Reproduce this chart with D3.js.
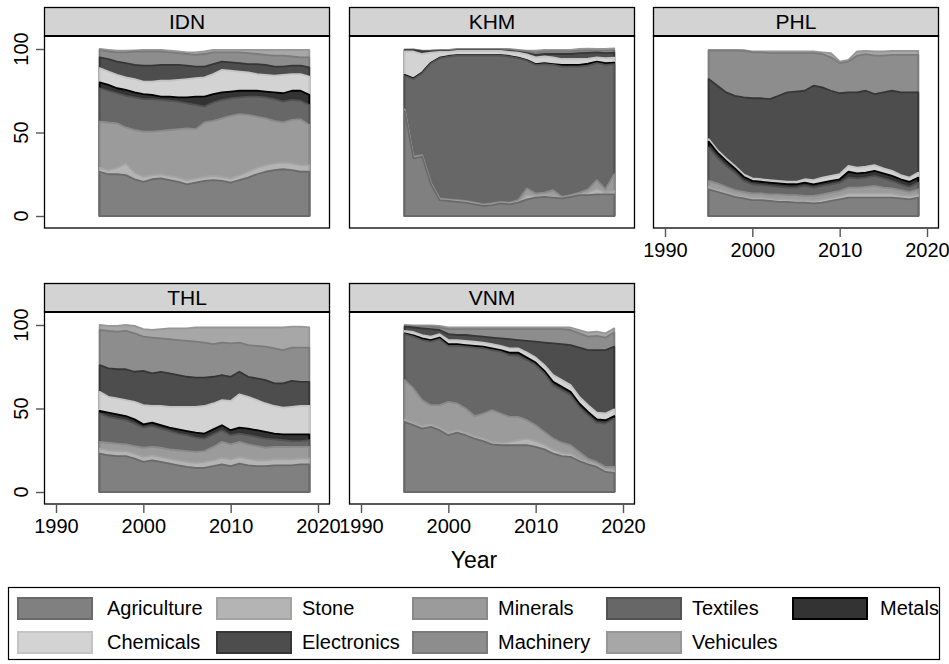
<!DOCTYPE html>
<html><head><meta charset="utf-8">
<script src="https://cdn.jsdelivr.net/npm/d3@7"></script>
<style>body{margin:0;background:#fff} svg{display:block} text{font-family:"Liberation Sans",Arial,Helvetica,sans-serif;fill:#000}</style>
</head><body><svg id="chart" width="949" height="664"></svg>
<script>
const years = [1995,1996,1997,1998,1999,2000,2001,2002,2003,2004,2005,2006,2007,2008,2009,2010,2011,2012,2013,2014,2015,2016,2017,2018,2019];
const sectors = ["Agriculture","Stone","Minerals","Textiles","Metals","Chemicals","Electronics","Machinery","Vehicules"];
const countries = ["IDN","KHM","PHL","THL","VNM"];
const xTicks = [1990,2000,2010,2020];
const yTicks = [0,50,100];

const dataIDN = {
  Agriculture:[26.5,25,25,24.5,22,20.5,22,22.5,21.5,20.5,19,20,21,21.5,21,20,21.5,23,25,26.5,27.5,28,27.5,26.5,26.5],
  Stone:[2.5,2.5,4,7,4,3,2.5,2.5,2.5,2.5,2.5,2.5,2.5,2.5,2.5,2.5,3,3.5,4,4,4,4,4,4,4],
  Minerals:[27.5,28.5,26.5,21.5,25.5,27,26,26,27.5,29,31,29.5,32.5,33,35,37.5,36.5,34,30.5,28,25.5,24,26,27.5,24],
  Textiles:[20,19,18,19,19.5,19.5,19.5,18.5,17.5,16.5,15,14.5,9.5,11,11,10.5,10,11,12,12.5,13,12.5,12,11,12],
  Metals:[3.5,3.5,3,3.5,3,3,2.5,2,2.5,2.5,3.5,5,6,5,4.5,4,4,3.5,3.5,3.5,4,5,5.5,6,6],
  Chemicals:[8.5,8,8,7.5,8,7.5,8,9.5,9.5,10.5,11,11,11.5,12,13.5,12.5,11.5,11,10,10,10,11,10,10,11],
  Electronics:[6.5,7.5,8,8.5,8.5,9.5,9.5,9.5,9.5,9,8,7,6.5,6,5,5,5,5,6,6,5.5,5,5,5,5.5],
  Machinery:[4.5,4.5,5.5,6.5,8,8.5,8.5,8,7.5,7,7,7,7.5,7,5.5,6,6.5,6.5,6,6,6.5,6.5,5.5,5,6],
  Vehicules:[0.5,1,1,1,0.7,1,1,1,1,1,1,1.5,1.5,1.5,1.5,1.5,1.5,2,2.5,3,3.5,3.5,4,4.5,4.5]
};
const dataKHM = {
  Agriculture:[63,34.5,35.5,19,9.5,9,8.5,8,7,6,6.5,7.5,7,8,10,11,11.5,11,10.5,11.5,12.5,12.5,13,13,13],
  Stone:[0.4,0.4,0.4,0.4,0.4,0.4,0.4,0.4,0.4,0.4,0.4,0.4,0.4,0.5,2.5,1,1,1.5,0.4,0.4,0.5,1.5,3.5,1,2],
  Minerals:[0.6,0.6,0.6,0.6,0.6,0.6,0.6,0.6,0.6,0.6,0.6,0.6,0.6,1,4,1.5,1.5,3,0.6,0.6,1,2,5,2,10],
  Textiles:[20,46.5,49,71.5,84,85.5,86.5,87,88,89,88.5,87.5,87.5,85,76.5,77,77,75,78,77,75.5,74,70,74.5,66],
  Metals:[0.5,0.5,0.5,0.3,0.3,0.3,0.3,0.3,0.3,0.3,0.3,0.3,0.3,0.3,0.3,0.5,0.5,0.5,1,1,1,1.2,1,1,0.8],
  Chemicals:[14,16,11,6,3.5,2.5,2.5,2.5,2.5,2.5,2.5,2.5,2.5,3,3.5,4,4,4,3.5,3.5,3.5,3,2.5,3,3],
  Electronics:[0.8,0.8,1.5,0.8,0.4,0.4,0.4,0.4,0.4,0.4,0.4,0.4,0.5,0.5,0.7,1.5,1.5,2,3,3,3.5,3.5,3,3,3],
  Machinery:[0.2,0.3,0.3,0.3,0.5,0.5,0.5,0.5,0.5,0.5,0.5,0.5,0.7,0.7,1,1.5,1.5,1.5,1.5,1.5,1.5,1.5,1,1.5,1.5],
  Vehicules:[0.2,0.2,0.2,0.2,0.3,0.3,0.3,0.3,0.3,0.3,0.3,0.3,0.5,0.5,0.5,1,1,1,1,1,1,1,1,1,1]
};
const dataPHL = {
  Agriculture:[16,14.5,13,11.5,10.5,9.5,9.5,9,8.5,8.5,8,8,7.5,8,9,10,11,11,11,11,11,11,10.5,10,11],
  Stone:[1.5,1.5,1.5,1.5,1.5,1.5,1.5,1.5,1.5,1.5,1.5,1.5,1.5,2,2,2,2.5,2.5,2.5,2.5,2.5,2.5,2,2,2],
  Minerals:[3.5,3.5,3,2.5,2.5,2.5,2.5,2.5,3,2.5,3,2.5,3,3,3,3,3.5,3.5,4,4.5,3.5,3,3,2.5,3],
  Textiles:[20,15.5,12.5,10.5,6.5,5.5,5,5,4.5,4.5,4.5,6,5,5,5,5,6,5.5,5.5,6,5.5,4.5,3.5,3,4],
  Metals:[3.5,3,3,2.5,2.5,2,2,2,2,2,2,2,2,2,2,2,3.5,3,3,3,3,3,3,3,3],
  Chemicals:[1.5,1.5,1.5,1.5,1.5,1.5,1.5,1.5,1.5,1.5,1.5,2,2.5,3,3,3,3.5,3.5,3.5,3.5,3,3,2.5,2.5,3],
  Electronics:[36,38.5,39.5,42,46,48,48.5,48.5,51,53.5,54,53,56.5,54,51,48.5,44,45,45.5,42.5,45.5,48,49.5,51,48],
  Machinery:[17,21,25,27,28,27.5,27.5,27.5,25.5,23.5,23,22.5,19.5,20,20,18,18.5,22,22,23,22,21.5,22.5,22.5,22.5],
  Vehicules:[0.5,0.5,0.5,0.5,0.3,0.5,0.5,1,1,1,1,1,1,1,2.5,1,1,2.5,1.8,2.5,2.5,2.3,2.3,2.3,2.3]
};
const dataTHL = {
  Agriculture:[23,22,21.5,21.5,20,18,19,18,17,16,15,14.5,14.5,15.5,16.5,15.5,17,16,15.5,15.5,16,16,16,16.5,16.5],
  Stone:[3,3,3,3,3,3,3,3,3,3,3,3,3.5,3.5,4,4,4,4,3.5,3.5,3.5,3.5,3.5,3.5,3.5],
  Minerals:[4,4.5,4.5,4,4.5,5.5,5,5.5,5.5,6,6.5,6.5,6.5,8,9.5,9,9,8.5,8.5,7.5,7.5,7.5,7.5,7,7],
  Textiles:[17,15.5,15,14.5,13.5,12,12.5,11.5,11,10,9.5,8.5,7.5,7.5,7,5.5,5,5.5,5.5,5.5,4.5,4,3.5,3.5,4],
  Metals:[1.5,2.5,2.5,2.5,2.5,2,2,2,2,2.5,2.5,3,3,3,3,3,3.5,4,4,4,3.5,3.5,4,4,3.5],
  Chemicals:[11.5,9.5,9.5,9.5,10.5,11.5,10,11.5,12.5,13.5,14.5,15.5,16.5,15.5,15,17.5,20,19,18,17,16.5,16,16.5,17,17],
  Electronics:[16,17,17.5,18.5,18,20.5,19.5,20.5,20,19,18,17.5,17,16,15,14.5,13.5,12,13,14,13.5,14.5,15.5,14.5,14.5],
  Machinery:[21,22.5,22.5,23,23,20.5,21.5,20,20.5,21,21.5,21.5,21,19.5,19.5,20,17.5,19,19.5,20,21,20,20,20.5,20.5],
  Vehicules:[3,3,3.5,3.5,4.5,4.5,4.5,5.5,6.5,7,7.5,8.5,9,10,9,9.5,9,10.5,11,11.5,12.5,13.5,12.5,12.5,12]
};
const dataVNM = {
  Agriculture:[42,40,38,39,37,34,35.5,34,32,30.5,28.5,28,28,28,28,27,25.5,23,21.5,21,18.5,16.5,15,12,11.5],
  Stone:[1.5,1.5,1.5,1.5,1.5,1.5,1.5,1.5,1.5,1.5,1.5,1.5,2,3,4,3.5,3,2.5,2,2,1.5,1.5,1.5,1.5,1.5],
  Minerals:[23.5,20.5,15.5,11.5,13.5,18.5,16,14.5,12,15,19,17.5,15,14,11,9.5,7.5,6.5,6,5,4,2,1.5,1.5,2],
  Textiles:[27.5,31,36,38,39.5,33.5,34.5,37,41,39,36,37,37,36.5,36,36,35,32,31.5,30,27,26,23.5,26,29],
  Metals:[0.5,0.8,1,1,1,1,1,1,1,1,1,1,1.5,2,1.5,1.5,1.5,2,2,2,2,2,2,2,1.5],
  Chemicals:[1.5,2,2,2,2,2.5,2.5,2.5,2.5,2.5,2.5,2.5,2.5,2.5,3,3,3.5,4,4,4,4,4,4,4,4],
  Electronics:[2.5,2.7,4,4.5,2.5,3.5,3,3.5,3.5,3.5,4,4.5,5.5,5,7,9.5,13.5,19,21.5,24,29.5,33,37.5,38,37.5],
  Machinery:[0.5,0.7,1,1.5,1.5,3,3.5,3.5,4,4.5,5,5.5,6,6.5,7,7.5,8,8.5,9,9,8.5,8,8.5,7.5,8.5],
  Vehicules:[0.5,0.6,0.7,0.7,1,1,1,1,1,1,1,1,1,1,1,1,1,1,1,1.5,2,2.5,2.5,2.5,2.5]
};
const countryData = {IDN:dataIDN, KHM:dataKHM, PHL:dataPHL, THL:dataTHL, VNM:dataVNM};

const fills   = ["#808080","#b4b4b4","#9b9b9b","#676767","#333333","#d3d3d3","#4d4d4d","#8d8d8d","#a7a7a7"];
const strokes = ["#6a6a6a","#a3a3a3","#8a8a8a","#525252","#000000","#c4c4c4","#363636","#7b7b7b","#979797"];

const svg = d3.select("#chart");
const font = '"Liberation Sans",Arial,Helvetica,sans-serif';

const panels = [
  {c:"IDN", x:44,  top:7,   yAxis:true,  xAxis:false},
  {c:"KHM", x:349, top:7,   yAxis:false, xAxis:false},
  {c:"PHL", x:653, top:7,   yAxis:false, xAxis:true},
  {c:"THL", x:44,  top:283, yAxis:true,  xAxis:true},
  {c:"VNM", x:349, top:283, yAxis:false, xAxis:true}
];
const PW = 286, SH = 29, PH = 192;

panels.forEach(p => {
  const d = countryData[p.c];
  const rows = years.map((yr,i) => { const o = {year:yr}; sectors.forEach(s => o[s] = d[s][i]); return o; });
  const stacked = d3.stack().keys(sectors)(rows);
  const plotTop = p.top + SH;
  const x = d3.scaleLinear().domain([1990,2020]).range([p.x+12, p.x+274]);
  const y = d3.scaleLinear().domain([0,100]).range([plotTop+180, plotTop+13]);
  const g = svg.append("g");

  g.append("rect").attr("x",p.x).attr("y",plotTop).attr("width",PW).attr("height",PH)
    .attr("fill","#fff");

  const area = d3.area().x((dd,i)=>x(years[i])).y0(y(0)).y1(dd=>y(dd[1]));
  for (let k = sectors.length-1; k >= 0; k--) {
    g.append("path").datum(stacked[k]).attr("d", area)
      .attr("fill", fills[k]).attr("stroke", strokes[k]).attr("stroke-width",1.8)
      .attr("stroke-linejoin","round");
  }

  g.append("rect").attr("x",p.x+0.5).attr("y",plotTop).attr("width",PW-1).attr("height",PH)
    .attr("fill","none").attr("stroke","#000").attr("stroke-width",1.3);

  g.append("rect").attr("x",p.x+0.5).attr("y",p.top+0.5).attr("width",PW-1).attr("height",SH-0.5)
    .attr("fill","#d3d3d3").attr("stroke","#000").attr("stroke-width",1.3);
  g.append("line").attr("x1",p.x).attr("x2",p.x+PW).attr("y1",plotTop).attr("y2",plotTop)
    .attr("stroke","#000").attr("stroke-width",2);
  g.append("text").attr("x",p.x+PW/2).attr("y",p.top+22).attr("text-anchor","middle")
    .style("font-size","21px").text(p.c);

  if (p.yAxis) {
    const ya = g.append("g").attr("transform",`translate(${p.x},0)`)
      .call(d3.axisLeft(y).tickValues(yTicks).tickSize(8).tickPadding(0).tickFormat(d3.format("d")));
    ya.select(".domain").remove();
    ya.selectAll(".tick line").attr("stroke","#555").attr("stroke-width",1.4);
    ya.selectAll(".tick text").remove();
    yTicks.forEach(t => {
      g.append("text").attr("transform",`translate(${p.x-16},${y(t)}) rotate(-90)`)
        .attr("text-anchor","middle").style("font-size","20px").text(t);
    });
  }
  if (p.xAxis) {
    const xa = g.append("g").attr("transform",`translate(0,${plotTop+PH})`)
      .call(d3.axisBottom(x).tickValues(xTicks).tickSize(9).tickPadding(0).tickFormat(d3.format("d")));
    xa.select(".domain").remove();
    xa.selectAll(".tick line").attr("stroke","#555").attr("stroke-width",1.4);
    xa.selectAll(".tick text").attr("y",29).attr("dy",0).style("font-size","20px")
      .style("font-family",font).attr("fill","#000");
  }
});

svg.append("text").attr("x",474).attr("y",568).attr("text-anchor","middle")
  .style("font-size","23px").text("Year");

svg.append("rect").attr("x",8.5).attr("y",587.5).attr("width",931).attr("height",72)
  .attr("fill","#fff").attr("stroke","#000").attr("stroke-width",1.2);
const colSw = [17,216,412,606,792];
const colTx = [107,302,498,692,880];
const rowY = [597,631];
sectors.forEach((s,i) => {
  const r = Math.floor(i/5), c = i%5;
  svg.append("rect").attr("x",colSw[c]+1).attr("y",rowY[r]+1).attr("width",74).attr("height",21)
    .attr("fill",fills[i]).attr("stroke",strokes[i]).attr("stroke-width",2);
  svg.append("text").attr("x",colTx[c]).attr("y",rowY[r]+18).style("font-size","20px").text(s);
});
</script></body></html>
